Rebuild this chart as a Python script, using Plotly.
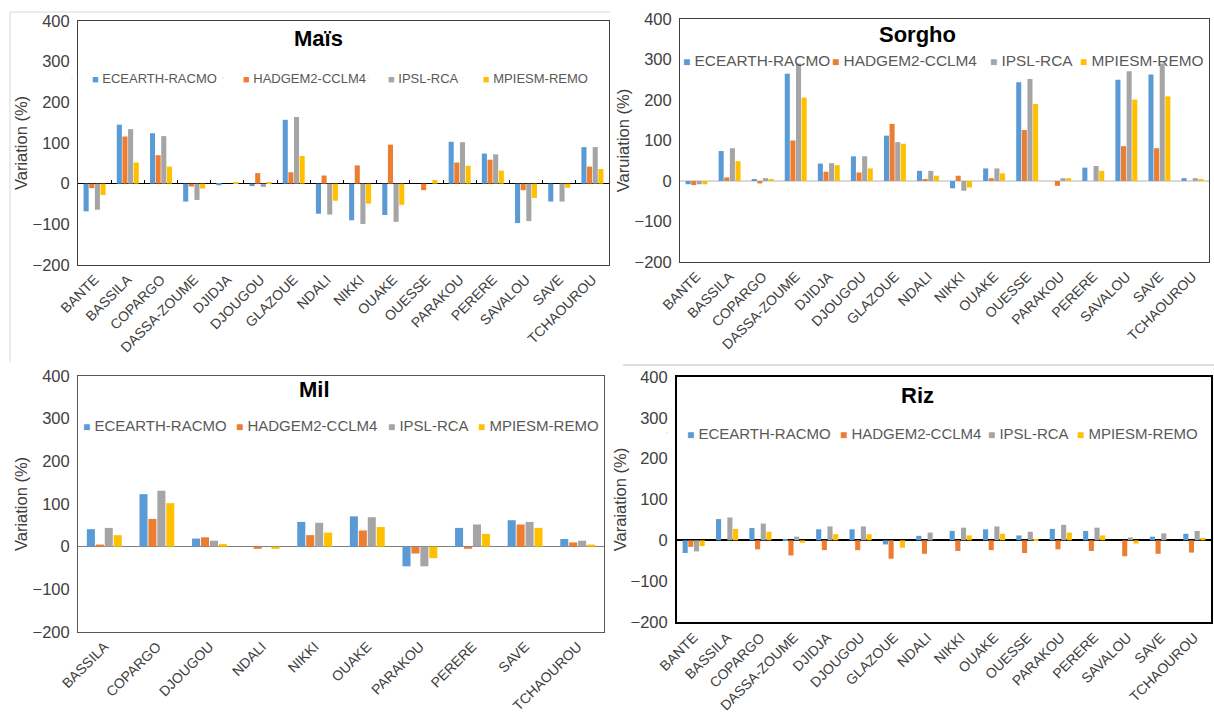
import plotly.graph_objects as go

W, H = 1214, 716

models = ["ECEARTH-RACMO", "HADGEM2-CCLM4", "IPSL-RCA", "MPIESM-REMO"]
colors = ["#5B9BD5", "#ED7D31", "#A5A5A5", "#FFC000"]

stations = ["BANTE", "BASSILA", "COPARGO", "DASSA-ZOUME", "DJIDJA", "DJOUGOU",
            "GLAZOUE", "NDALI", "NIKKI", "OUAKE", "OUESSE", "PARAKOU", "PERERE",
            "SAVALOU", "SAVE", "TCHAOUROU"]
stations_mil = ["BASSILA", "COPARGO", "DJOUGOU", "NDALI", "NIKKI", "OUAKE",
                "PARAKOU", "PERERE", "SAVE", "TCHAOUROU"]

# Maïs
mais_ecearth = [-68, 145, 124, -44, -4, -6, 157, -74, -90, -77, 0, 103, 74, -97, -44, 90]
mais_hadgem = [-11, 116, 70, -7, 0, 26, 28, 20, 45, 96, -16, 52, 59, -16, 0, 42]
mais_ipsl = [-64, 134, 117, -40, 0, -8, 164, -76, -99, -94, 0, 102, 72, -92, -44, 90]
mais_mpiesm = [-28, 52, 42, -12, 4, 3, 68, -42, -49, -52, 9, 44, 32, -35, -10, 36]

# Sorgho
sorgho_ecearth = [-8, 74, 5, 265, 43, 61, 112, 25, -18, 31, 244, 0, 33, 250, 263, 7]
sorgho_hadgem = [-10, 9, -6, 100, 23, 21, 141, 5, 13, 7, 126, -12, 0, 86, 81, 0]
sorgho_ipsl = [-8, 81, 7, 290, 44, 61, 96, 25, -24, 31, 252, 7, 37, 271, 290, 7]
sorgho_mpiesm = [-8, 49, 5, 206, 39, 31, 92, 13, -16, 19, 190, 7, 25, 201, 209, 3]

# Mil
mil_ecearth = [41, 123, 19, 0, 58, 71, -46, 44, 62, 18]
mil_hadgem = [5, 65, 22, -5, 27, 38, -16, -5, 52, 10]
mil_ipsl = [44, 131, 14, 0, 56, 69, -46, 52, 58, 14]
mil_mpiesm = [27, 102, 6, -5, 33, 46, -27, 30, 44, 5]

# Riz
riz_ecearth = [-31, 52, 30, 3, 27, 27, -10, 11, 23, 27, 12, 28, 23, 0, 9, 16]
riz_hadgem = [-16, 0, -22, -37, -24, -24, -45, -33, -26, -24, -31, -22, -26, -39, -33, -30]
riz_ipsl = [-27, 56, 41, 9, 34, 34, 0, 19, 31, 34, 21, 38, 31, 7, 17, 23]
riz_mpiesm = [-14, 28, 21, -6, 15, 15, -18, 0, 12, 16, 3, 19, 12, -8, 0, 6]

y_ticks = [-200, -100, 0, 100, 200, 300, 400]


def fx(px):
    return px / W


def fy(py):
    return 1 - py / H


panels = [
    dict(title="Maïs", ytitle="Variation (%)", cats=stations,
         series=[mais_ecearth, mais_hadgem, mais_ipsl, mais_mpiesm],
         box=(78, 609, 21, 265), title_pos=(318, 38),
         legend=dict(sq=[92, 243, 388, 483], y=78, size=13, sqsize=11, last=110),
         border="#404040", bw=1, zero="#000000", zw=1.2, standoff=0),
    dict(title="Sorgho", ytitle="Varuiation (%)", cats=stations,
         series=[sorgho_ecearth, sorgho_hadgem, sorgho_ipsl, sorgho_mpiesm],
         box=(680, 1209, 19, 262), title_pos=(918, 35),
         legend=dict(sq=[683, 832, 990, 1080], y=60, size=15.4, sqsize=12, last=118),
         border="#404040", bw=1, zero="#D9D9D9", zw=1.5, standoff=0),
    dict(title="Mil", ytitle="Variation (%)", cats=stations_mil,
         series=[mil_ecearth, mil_hadgem, mil_ipsl, mil_mpiesm],
         box=(78, 604, 376, 632), title_pos=(314, 390),
         legend=dict(sq=[83, 236, 388, 478], y=425, size=15, sqsize=12, last=120),
         border="#595959", bw=1, zero="#7F7F7F", zw=1.2, standoff=0),
    dict(title="Riz", ytitle="Varaiation (%)", cats=stations,
         series=[riz_ecearth, riz_hadgem, riz_ipsl, riz_mpiesm],
         box=(677, 1211, 377, 622), title_pos=(918, 395),
         legend=dict(sq=[687, 840, 988, 1077], y=433, size=15, sqsize=12, last=120),
         border="#000000", bw=2, zero="#000000", zw=2, standoff=0),
]

TEXT_GAP = 40   # plotly legend: symbol area before the entry text
ITEM_GAP = 5

fig = go.Figure()
layout = dict(
    width=W, height=H, autosize=False,
    margin=dict(l=0, r=0, t=0, b=0, autoexpand=False),
    paper_bgcolor="white", plot_bgcolor="white",
    barmode="group", bargap=0.32, bargroupgap=0.1,
    font=dict(family="Liberation Sans, Arial, sans-serif", color="#404040"),
    showlegend=True,
)
annotations = []

for i, p in enumerate(panels):
    n = i + 1
    xa = "x" if n == 1 else f"x{n}"
    ya = "y" if n == 1 else f"y{n}"
    lg = "legend" if n == 1 else f"legend{n}"
    L = p["legend"]
    sq = L["sq"]
    for k, (m, c) in enumerate(zip(models, colors)):
        grp = f"{p['title']}-{m}"
        fig.add_trace(go.Bar(
            x=p["cats"], y=p["series"][k], name=m,
            marker=dict(color=c, line=dict(width=0)),
            xaxis=xa, yaxis=ya, legendgroup=grp, showlegend=False,
        ))
        lw = (sq[k + 1] - sq[k] - TEXT_GAP - ITEM_GAP) if k < 3 else L["last"]
        fig.add_trace(go.Scatter(
            x=[None], y=[None], mode="markers",
            marker=dict(opacity=0, size=1, color=c),
            name=f"<span style='color:{c};font-size:{L['sqsize']}px'>■</span> {m}",
            xaxis=xa, yaxis=ya, legend=lg, legendgroup=grp,
            legendwidth=lw, hoverinfo="skip",
        ))
    x0, x1, y0, y1 = p["box"]
    layout[f"xaxis{n if n > 1 else ''}"] = dict(
        domain=[fx(x0), fx(x1)], anchor=ya, automargin=False,
        type="category", tickmode="array", tickvals=p["cats"],
        tickangle=-45, tickfont=dict(size=14, color="#404040"),
        showline=True, linecolor=p["border"], linewidth=p["bw"], mirror=True,
        showgrid=False, ticks="", fixedrange=True,
    )
    layout[f"yaxis{n if n > 1 else ''}"] = dict(
        domain=[fy(y1), fy(y0)], anchor=xa, automargin=False,
        range=[-200, 400], tickmode="array", tickvals=y_ticks,
        tickfont=dict(size=16.5, color="#404040"),
        title=dict(text=p["ytitle"], font=dict(size=16.5, color="#404040"),
                   standoff=p["standoff"]),
        showline=True, linecolor=p["border"], linewidth=p["bw"], mirror=True,
        showgrid=False, ticks="", zeroline=True, zerolinecolor=p["zero"],
        zerolinewidth=p["zw"], fixedrange=True, ticklabelstandoff=4,
    )
    layout[lg] = dict(
        orientation="h", x=fx(sq[0] - TEXT_GAP), y=fy(L["y"]),
        xanchor="left", yanchor="middle",
        bgcolor="rgba(0,0,0,0)", font=dict(size=L["size"], color="#595959"),
        itemwidth=30, tracegroupgap=0, borderwidth=0, itemclick=False,
        itemdoubleclick=False,
    )
    annotations.append(dict(
        text=f"<b>{p['title']}</b>", x=fx(p["title_pos"][0]), y=fy(p["title_pos"][1]),
        xref="paper", yref="paper", showarrow=False, xanchor="center", yanchor="middle",
        font=dict(size=22, color="#000000"),
    ))

# category tick marks crossing the zero line on the Maïs panel
n_cat = len(stations)
x0, x1, y0, y1 = panels[0]["box"]
zero_pos = fy(y1) + (fy(y0) - fy(y1)) * (0 - (-200)) / 600
fig.add_trace(go.Scatter(x=[None], y=[None], xaxis="x5", yaxis="y",
                         showlegend=False, hoverinfo="skip", mode="markers"))
layout["xaxis5"] = dict(
    overlaying="x", anchor="free", position=zero_pos, side="bottom",
    range=[-0.5, n_cat - 0.5], tickmode="array", automargin=False,
    tickvals=[j - 0.5 for j in range(n_cat + 1)],
    ticks="inside", ticklen=4, tickcolor="#000000", tickwidth=1.2,
    showticklabels=False, showline=False, showgrid=False, zeroline=False,
    fixedrange=True,
)

layout["annotations"] = annotations
layout["shapes"] = [
    dict(type="line", xref="paper", yref="paper", x0=fx(10), x1=fx(610), y0=fy(12), y1=fy(12),
         line=dict(color="#D9D9D9", width=1)),
    dict(type="line", xref="paper", yref="paper", x0=fx(10), x1=fx(10), y0=fy(12), y1=fy(362),
         line=dict(color="#D9D9D9", width=1)),
    dict(type="line", xref="paper", yref="paper", x0=fx(623), x1=fx(1214), y0=fy(365), y1=fy(365),
         line=dict(color="#BFBFBF", width=1)),
]
fig.update_layout(**layout)
fig.write_html("out.html")
